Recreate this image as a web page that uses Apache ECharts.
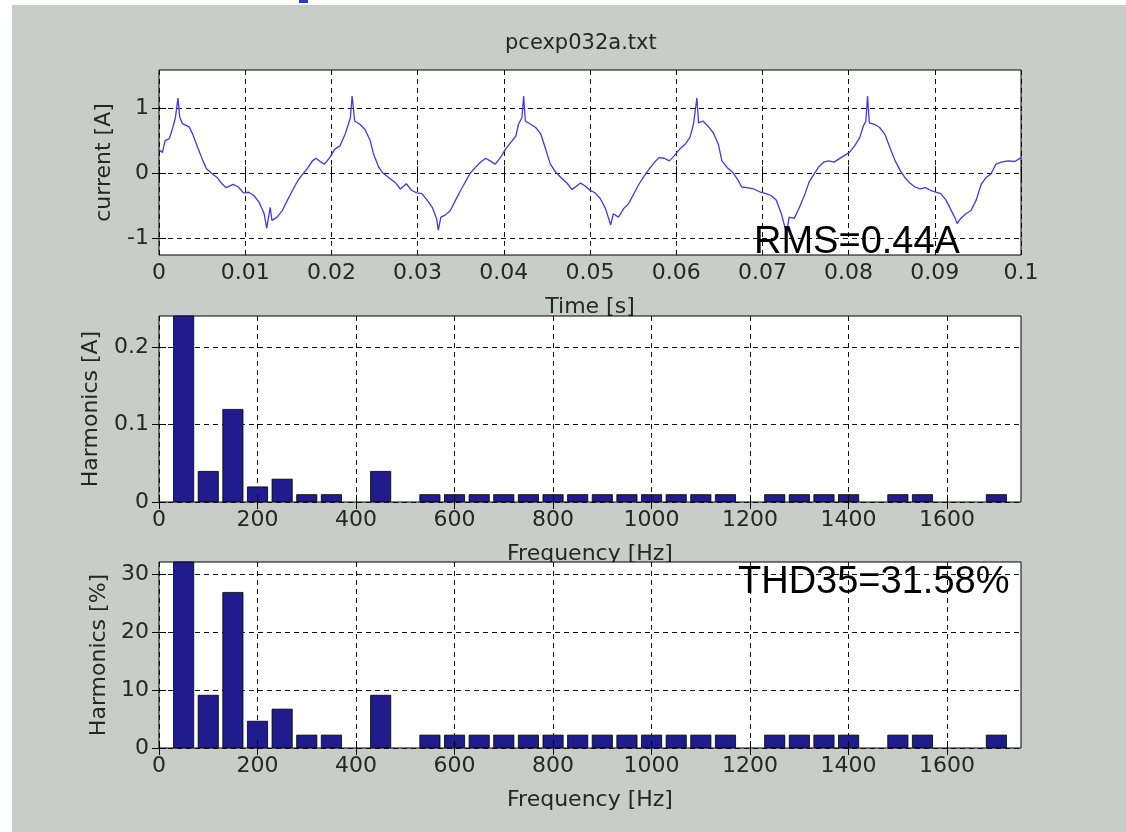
<!DOCTYPE html>
<html>
<head>
<meta charset="utf-8">
<script src="https://cdn.jsdelivr.net/npm/echarts@6/dist/echarts.min.js"></script>
<style>
html,body{margin:0;padding:0;background:#fff}
#chart{width:1126px;height:832px}
</style>
</head>
<body>
<div id="chart"></div>
<script>
const timeS = [
  0.0000,0.0004,0.0007,0.0012,0.0016,0.0019,0.0022,0.0024,0.0027,0.0035,0.0039,0.0045,0.0051,0.0055,0.0061,0.0067,
  0.0073,0.0078,0.0086,0.0092,0.0098,0.0104,0.0110,0.0116,0.0122,0.0125,0.0129,0.0131,0.0137,0.0143,0.0149,0.0155,
  0.0161,0.0167,0.0173,0.0178,0.0182,0.0188,0.0192,0.0198,0.0204,0.0210,0.0216,0.0222,0.0224,0.0227,0.0233,0.0239,
  0.0245,0.0249,0.0255,0.0260,0.0266,0.0274,0.0280,0.0287,0.0293,0.0299,0.0305,0.0311,0.0317,0.0322,0.0324,0.0327,
  0.0332,0.0338,0.0344,0.0350,0.0355,0.0361,0.0367,0.0373,0.0379,0.0384,0.0390,0.0396,0.0402,0.0408,0.0414,0.0417,
  0.0421,0.0423,0.0425,0.0431,0.0437,0.0443,0.0448,0.0454,0.0460,0.0466,0.0474,0.0479,0.0489,
  0.0494,0.0500,0.0506,0.0512,0.0518,0.0524,0.0527,0.0533,0.0539,0.0545,0.0551,0.0557,0.0563,0.0569,0.0575,0.0580,
  0.0586,0.0592,0.0598,0.0604,0.0610,0.0616,0.0620,0.0624,0.0626,0.0631,0.0637,0.0643,0.0649,0.0653,0.0659,0.0665,
  0.0671,0.0676,0.0682,0.0690,0.0698,0.0704,0.0710,0.0716,0.0722,0.0728,0.0731,0.0737,0.0743,0.0749,
  0.0754,0.0760,0.0765,0.0771,0.0777,0.0783,0.0789,0.0795,0.0801,0.0807,0.0813,0.0817,0.0820,0.0822,0.0824,0.0830,
  0.0836,0.0842,0.0848,0.0854,0.0860,0.0865,0.0871,0.0877,0.0883,0.0889,0.0895,0.0901,0.0907,0.0913,0.0918,0.0923,
  0.0926,0.0930,0.0936,0.0942,0.0948,0.0954,0.0960,0.0965,0.0971,0.0977,0.0985,0.0993,0.1000
];
const currentA = [
  0.36,0.32,0.50,0.53,0.70,0.85,1.15,0.86,0.76,0.71,0.60,0.39,0.19,0.07,0.00,-0.06,
  -0.16,-0.22,-0.17,-0.21,-0.30,-0.29,-0.34,-0.44,-0.62,-0.84,-0.52,-0.72,-0.67,-0.57,-0.41,-0.26,
  -0.11,-0.01,0.09,0.19,0.23,0.17,0.14,0.24,0.37,0.42,0.60,0.85,1.18,0.80,0.75,0.67,
  0.50,0.29,0.09,0.00,-0.06,-0.14,-0.24,-0.16,-0.26,-0.30,-0.31,-0.41,-0.52,-0.69,-0.87,-0.67,
  -0.64,-0.57,-0.41,-0.26,-0.14,0.00,0.09,0.17,0.23,0.19,0.14,0.24,0.37,0.47,0.57,0.75,
  0.85,1.18,0.80,0.75,0.70,0.60,0.39,0.14,0.02,-0.06,-0.16,-0.25,-0.15,
  -0.19,-0.26,-0.30,-0.39,-0.54,-0.79,-0.62,-0.67,-0.54,-0.46,-0.31,-0.16,-0.04,0.07,0.17,0.24,
  0.23,0.19,0.27,0.37,0.44,0.55,0.75,1.15,0.77,0.80,0.72,0.62,0.44,0.19,0.09,0.02,
  -0.09,-0.21,-0.22,-0.24,-0.29,-0.31,-0.34,-0.41,-0.62,-0.92,-0.67,-0.69,-0.52,-0.33,
  -0.14,-0.01,0.09,0.17,0.19,0.17,0.22,0.27,0.32,0.42,0.55,0.72,0.80,1.18,0.77,0.75,
  0.70,0.60,0.39,0.19,0.04,-0.06,-0.15,-0.21,-0.24,-0.22,-0.26,-0.29,-0.31,-0.41,-0.54,-0.67,
  -0.77,-0.69,-0.62,-0.57,-0.41,-0.16,-0.06,-0.01,0.14,0.17,0.19,0.18,0.24
];

// harmonics 1..35
const freqHz = [50,100,150,200,250,300,350,400,450,500,550,600,650,700,750,800,850,900,950,1000,
  1050,1100,1150,1200,1250,1300,1350,1400,1450,1500,1550,1600,1650,1700,1750];
const harmA = [0.44,0.04,0.12,0.02,0.03,0.01,0.01,0,0.04,0,0.01,0.01,0.01,0.01,0.01,0.01,0.01,0.01,0.01,0.01,
  0.01,0.01,0.01,0,0.01,0.01,0.01,0.01,0,0.01,0.01,0,0,0.01,0];
const harmPct = [100,9.2,27.0,4.7,6.8,2.3,2.3,0,9.2,0,2.3,2.3,2.3,2.3,2.3,2.3,2.3,2.3,2.3,2.3,
  2.3,2.3,2.3,0,2.3,2.3,2.3,2.3,0,2.3,2.3,0,0,2.3,0];

const timeTicks = [0,0.01,0.02,0.03,0.04,0.05,0.06,0.07,0.08,0.09,0.1];
const currentTicks = [-1,0,1];
const freqTicks = [0,200,400,600,800,1000,1200,1400,1600];
const harmATicks = [0,0.1,0.2];
const harmPctTicks = [0,10,20,30];

const titleText = 'pcexp032a.txt';
const rmsText = 'RMS=0.44A';
const thdText = 'THD35=31.58%';

const fontName = 'DejaVu Sans';
const txtColor = '#262626';

function fmt(v){ return String(+v.toFixed(3)) }

function mainX(i, min, max, ticks, name, z){
  return {
    type:'value', gridIndex:i, position:'bottom', min:min, max:max, z:z,
    name:name, nameLocation:'middle', nameGap:41,
    nameTextStyle:{fontFamily:fontName, fontSize:22, color:txtColor, verticalAlign:'top'},
    axisLine:{show:false},
    axisTick:{show:true, inside:true, length:7, customValues:ticks, lineStyle:{color:'#000'}},
    axisLabel:{customValues:ticks, formatter:fmt, fontFamily:fontName, fontSize:22, color:txtColor, margin:7},
    splitLine:{show:true, lineStyle:{color:'#111', width:1, type:[5,4]}}
  }
}
function mirrorX(i, min, max, ticks, z){
  return {
    type:'value', gridIndex:i, position:'top', min:min, max:max, z:z,
    axisLine:{show:false},
    axisTick:{show:true, inside:true, length:7, customValues:ticks, lineStyle:{color:'#000'}},
    axisLabel:{show:false}, splitLine:{show:false}
  }
}
function mainY(i, min, max, ticks, name, gap, z){
  return {
    type:'value', gridIndex:i, position:'left', min:min, max:max, z:z,
    name:name, nameLocation:'middle', nameGap:gap,
    nameTextStyle:{fontFamily:fontName, fontSize:22, color:txtColor},
    axisLine:{show:false},
    axisTick:{show:true, inside:true, length:7, customValues:ticks, lineStyle:{color:'#000'}},
    axisLabel:{customValues:ticks, formatter:fmt, fontFamily:fontName, fontSize:22, color:txtColor, margin:10},
    splitLine:{show:true, lineStyle:{color:'#111', width:1, type:[5,4]}}
  }
}
function mirrorY(i, min, max, ticks, z){
  return {
    type:'value', gridIndex:i, position:'right', min:min, max:max, z:z,
    axisLine:{show:false},
    axisTick:{show:true, inside:true, length:7, customValues:ticks, lineStyle:{color:'#000'}},
    axisLabel:{show:false}, splitLine:{show:false}
  }
}

const gridBase = {show:true, backgroundColor:'#fff', borderColor:'#000', borderWidth:1, containLabel:false};

const waveData = timeS.map((t,k)=>[t, currentA[k]]);
// empty harmonics get no bar at all
const harmAData = freqHz.map((f,k)=>[f, harmA[k]]).filter(d=>d[1]>0);
const harmPctData = freqHz.map((f,k)=>[f, harmPct[k]]).filter(d=>d[1]>0);

const barStyle = {color:'#201c8e', borderColor:'#000', borderWidth:0.8};

let myChart = echarts.init(document.getElementById('chart'));
let option = {
  backgroundColor:'#c9cdc9',
  animation:false,
  title:{
    text:titleText, left:505, top:33, padding:0,
    textStyle:{fontFamily:fontName, fontSize:21, fontWeight:'normal', color:txtColor}
  },
  grid:[
    Object.assign({left:159, top:70, width:862, height:185, z:1}, gridBase),
    Object.assign({left:159, top:316, width:862, height:186, z:3}, gridBase),
    Object.assign({left:159, top:562, width:862, height:186, z:5}, gridBase)
  ],
  xAxis:[
    mainX(0, 0, 0.1, timeTicks, 'Time [s]', 2),
    mirrorX(0, 0, 0.1, timeTicks, 2),
    mainX(1, 0, 1750, freqTicks, 'Frequency [Hz]', 4),
    mirrorX(1, 0, 1750, freqTicks, 4),
    mainX(2, 0, 1750, freqTicks, 'Frequency [Hz]', 6),
    mirrorX(2, 0, 1750, freqTicks, 6)
  ],
  yAxis:[
    mainY(0, -1.25, 1.58, currentTicks, 'current [A]', 44, 2),
    mirrorY(0, -1.25, 1.58, currentTicks, 2),
    mainY(1, 0, 0.24, harmATicks, 'Harmonics [A]', 57, 4),
    mirrorY(1, 0, 0.24, harmATicks, 4),
    mainY(2, 0, 32.2, harmPctTicks, 'Harmonics [%]', 49, 6),
    mirrorY(2, 0, 32.2, harmPctTicks, 6)
  ],
  series:[
    {type:'line', xAxisIndex:0, yAxisIndex:0, data:waveData, showSymbol:false, clip:true, z:2,
     lineStyle:{color:'#4538e2', width:1.3}},
    {type:'bar', xAxisIndex:2, yAxisIndex:2, data:harmAData, barWidth:21, clip:true, z:4, itemStyle:barStyle},
    {type:'bar', xAxisIndex:4, yAxisIndex:4, data:harmPctData, barWidth:21, clip:true, z:6, itemStyle:barStyle}
  ],
  graphic:[
    {type:'rect', z:100, shape:{x:0, y:0, width:12, height:832}, style:{fill:'#fff'}},
    {type:'rect', z:100, shape:{x:0, y:0, width:1126, height:5}, style:{fill:'#fff'}},
    {type:'rect', z:100, shape:{x:299, y:0, width:9, height:3}, style:{fill:'#2a3ad8'}},
    {type:'text', z:100, x:754, y:243, style:{text:rmsText, fill:'#000', font:'38px "Liberation Sans", Arial, sans-serif', textVerticalAlign:'middle'}},
    {type:'text', z:100, x:738, y:583, style:{text:thdText, fill:'#000', font:'38px "Liberation Sans", Arial, sans-serif', textVerticalAlign:'middle'}}
  ]
};
myChart.setOption(option);
window.onresize = function () {
  myChart.resize()
}
</script>
</body>
</html>
